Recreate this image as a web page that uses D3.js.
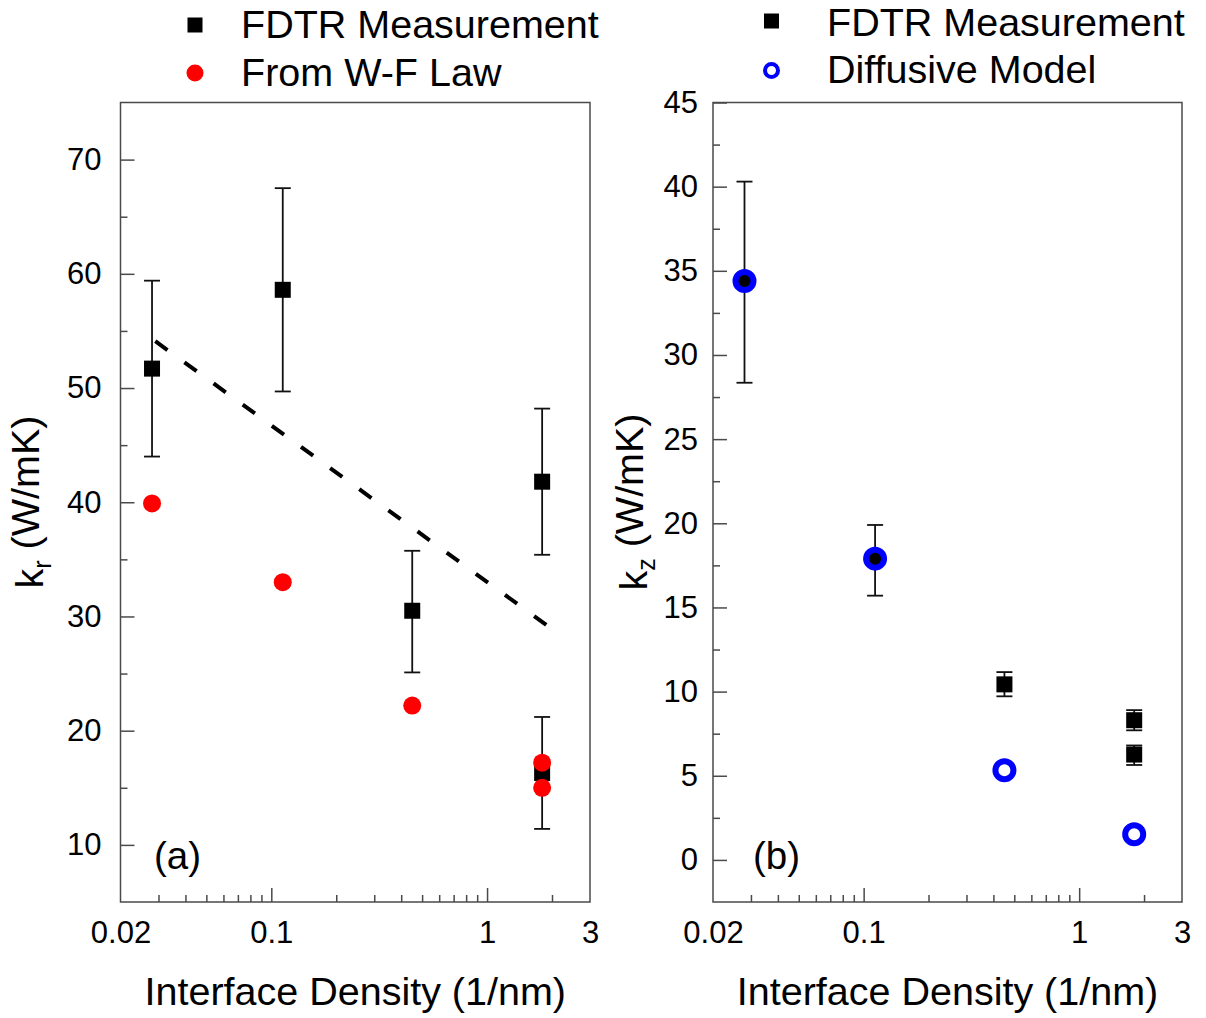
<!DOCTYPE html>
<html>
<head>
<meta charset="utf-8">
<script src="https://cdn.jsdelivr.net/npm/d3@7"></script>
<style>
  html, body { margin: 0; padding: 0; background: #fff; }
  svg { display: block; }
  text { font-family: "Liberation Sans", Arial, sans-serif; fill: #000; }
</style>
</head>
<body>
<svg id="chart" width="1206" height="1018"></svg>
<script>
// ---------- DATA ----------
// Panel (a): in-plane thermal conductivity k_r
const krFdtrX    = [0.028, 0.113, 0.45, 1.8, 1.8];
const krFdtr     = [51.7, 58.6, 30.5, 41.8, 16.3];
const krErrLow   = [44.0, 49.7, 25.1, 35.4, 11.4];
const krErrHigh  = [59.4, 67.5, 35.75, 48.2, 21.2];
const krWFX      = [0.028, 0.113, 0.45, 1.8, 1.8];
const krWF       = [39.9, 33.0, 22.2, 17.2, 15.0];
const fitX       = [0.029, 2.0];
const fitY       = [54.1, 28.9];

// Panel (b): cross-plane thermal conductivity k_z
const kzFdtrX    = [0.028, 0.113, 0.45, 1.8, 1.8];
const kzFdtr     = [34.4, 17.9, 10.43, 8.3, 6.26];
const kzErrLow   = [28.35, 15.7, 9.72, 7.7, 5.64];
const kzErrHigh  = [40.3, 19.9, 11.16, 8.9, 6.8];
const diffX      = [0.028, 0.113, 0.45, 1.8];
const diffModel  = [34.4, 17.9, 5.33, 1.53];

// Axes ticks
const xTickLabels   = [0.02, 0.1, 1, 3];
const xMajorTicks   = [0.1, 1];
const xMinorTicks   = [0.03,0.04,0.05,0.06,0.07,0.08,0.09,0.2,0.3,0.4,0.5,0.6,0.7,0.8,0.9,2];
const krTicks       = [10, 20, 30, 40, 50, 60, 70];
const krMinorTicks  = [15, 25, 35, 45, 55, 65];
const kzTicks       = [0, 5, 10, 15, 20, 25, 30, 35, 40, 45];
const kzMinorTicks  = [2.5, 7.5, 12.5, 17.5, 22.5, 27.5, 32.5, 37.5, 42.5];

const svg = d3.select("#chart");
const frameColor = "#4a4a4a";
const tickFont = "31px";
const bigFont = "39.5px";

function panel(cfg) {
  const g = svg.append("g");
  const x = d3.scaleLog().domain([0.02, 3]).range([cfg.left, cfg.right]);
  const y = d3.scaleLinear().domain(cfg.yDomain).range([cfg.bottom, cfg.top]);

  g.append("rect")
    .attr("x", cfg.left).attr("y", cfg.top)
    .attr("width", cfg.right - cfg.left).attr("height", cfg.bottom - cfg.top)
    .attr("fill", "none").attr("stroke", frameColor).attr("stroke-width", 1.5);

  const fmtX = d => (d === 0.02 ? "0.02" : d === 0.1 ? "0.1" : String(d));

  const xMaj = g.append("g").attr("transform", `translate(0,${cfg.bottom})`)
    .call(d3.axisBottom(x).tickValues(xMajorTicks).tickSize(-14).tickFormat(""));
  const xMin = g.append("g").attr("transform", `translate(0,${cfg.bottom})`)
    .call(d3.axisBottom(x).tickValues(xMinorTicks).tickSize(-7).tickFormat(""));
  const xLab = g.append("g").attr("transform", `translate(0,${cfg.bottom})`)
    .call(d3.axisBottom(x).tickValues(xTickLabels).tickSize(0).tickPadding(19).tickFormat(fmtX));
  xLab.selectAll("text").style("font-size", tickFont).attr("fill", "#000");

  const yMaj = g.append("g").attr("transform", `translate(${cfg.left},0)`)
    .call(d3.axisLeft(y).tickValues(cfg.yTicks).tickSize(-14).tickPadding(cfg.yPad).tickFormat(d3.format("d")));
  yMaj.selectAll("text").style("font-size", tickFont).attr("fill", "#000");
  const yMin = g.append("g").attr("transform", `translate(${cfg.left},0)`)
    .call(d3.axisLeft(y).tickValues(cfg.yMinor).tickSize(-7).tickFormat(""));

  [xMaj, xMin, xLab, yMaj, yMin].forEach(a => {
    a.select(".domain").remove();
    a.selectAll("line").attr("stroke", frameColor).attr("stroke-width", 1.5);
  });

  g.append("text")
    .attr("x", (cfg.left + cfg.right) / 2).attr("y", 1005)
    .attr("text-anchor", "middle").style("font-size", bigFont)
    .text("Interface Density (1/nm)");

  const yt = g.append("text")
    .attr("transform", `translate(${cfg.yTitleX},502) rotate(-90)`)
    .attr("text-anchor", "middle").style("font-size", bigFont);
  yt.append("tspan").text("k");
  yt.append("tspan").attr("dy", "0.3em").style("font-size", "25px").text(cfg.sub);
  yt.append("tspan").attr("dy", "-0.3em").text(" (W/mK)");

  g.append("text").attr("x", cfg.labelX).attr("y", 869)
    .style("font-size", "38.5px").text(cfg.label);

  return { g, x, y };
}

function errorBars(p, xs, lo, hi) {
  const eb = p.g.append("g").attr("stroke", "#111").attr("stroke-width", 1.8);
  xs.forEach((xv, i) => {
    const cx = p.x(xv);
    eb.append("line").attr("x1", cx).attr("x2", cx).attr("y1", p.y(lo[i])).attr("y2", p.y(hi[i]));
    eb.append("line").attr("x1", cx - 8).attr("x2", cx + 8).attr("y1", p.y(lo[i])).attr("y2", p.y(lo[i]));
    eb.append("line").attr("x1", cx - 8).attr("x2", cx + 8).attr("y1", p.y(hi[i])).attr("y2", p.y(hi[i]));
  });
}

function squares(p, xs, ys, size) {
  p.g.append("g").selectAll("rect").data(xs).join("rect")
    .attr("x", d => p.x(d) - size / 2)
    .attr("y", (d, i) => p.y(ys[i]) - size / 2)
    .attr("width", size).attr("height", size).attr("fill", "#000");
}

// ---------- Panel (a) ----------
const pa = panel({
  left: 120.5, right: 590, top: 102.5, bottom: 902,
  yDomain: [5, 75], yTicks: krTicks, yMinor: krMinorTicks, yPad: 19,
  yTitleX: 43, sub: "r", label: "(a)", labelX: 154
});

pa.g.append("path")
  .datum(fitX.map((d, i) => [d, fitY[i]]))
  .attr("d", d3.line().x(d => pa.x(d[0])).y(d => pa.y(d[1])))
  .attr("fill", "none").attr("stroke", "#000").attr("stroke-width", 4)
  .attr("stroke-dasharray", "15,21");

errorBars(pa, krFdtrX, krErrLow, krErrHigh);
squares(pa, krFdtrX, krFdtr, 16);
pa.g.append("g").selectAll("circle").data(krWFX).join("circle")
  .attr("cx", d => pa.x(d)).attr("cy", (d, i) => pa.y(krWF[i]))
  .attr("r", 9).attr("fill", "#ff0000");

// ---------- Panel (b) ----------
const pb = panel({
  left: 713, right: 1182, top: 102.5, bottom: 902,
  yDomain: [-2.5, 45], yTicks: kzTicks, yMinor: kzMinorTicks, yPad: 15,
  yTitleX: 647, sub: "z", label: "(b)", labelX: 753
});
errorBars(pb, kzFdtrX, kzErrLow, kzErrHigh);
squares(pb, kzFdtrX, kzFdtr, 16);
pb.g.append("g").selectAll("circle").data(diffX).join("circle")
  .attr("cx", d => pb.x(d)).attr("cy", (d, i) => pb.y(diffModel[i]))
  .attr("r", 9).attr("fill", "none").attr("stroke", "#0000ff").attr("stroke-width", 6);

// ---------- Legends ----------
const legA = svg.append("g");
legA.append("rect").attr("x", 195 - 7.5).attr("y", 25 - 7.5).attr("width", 15).attr("height", 15).attr("fill", "#000");
legA.append("text").attr("x", 241).attr("y", 38).style("font-size", bigFont).text("FDTR Measurement");
legA.append("circle").attr("cx", 195).attr("cy", 73).attr("r", 8.5).attr("fill", "#ff0000");
legA.append("text").attr("x", 241).attr("y", 86).style("font-size", bigFont).text("From W-F Law");

const legB = svg.append("g");
legB.append("rect").attr("x", 771.5 - 7.5).attr("y", 21 - 7.5).attr("width", 15).attr("height", 15).attr("fill", "#000");
legB.append("text").attr("x", 827).attr("y", 36).style("font-size", bigFont).text("FDTR Measurement");
legB.append("circle").attr("cx", 771.5).attr("cy", 70.5).attr("r", 6.5).attr("fill", "none").attr("stroke", "#0000ff").attr("stroke-width", 4);
legB.append("text").attr("x", 827).attr("y", 83).style("font-size", bigFont).text("Diffusive Model");
</script>
</body>
</html>
